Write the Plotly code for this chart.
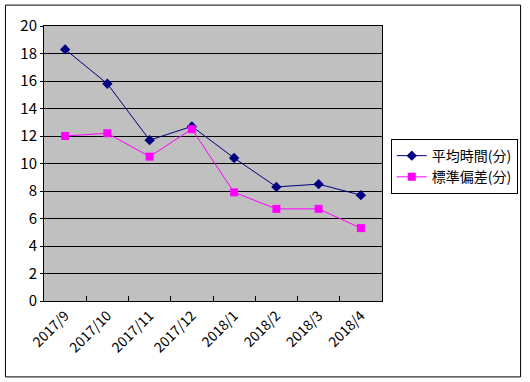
import plotly.graph_objects as go

categories = ["2017/9", "2017/10", "2017/11", "2017/12", "2018/1", "2018/2", "2018/3", "2018/4"]
avg_time = [18.3, 15.8, 11.7, 12.7, 10.4, 8.3, 8.5, 7.7]
std_dev = [12.0, 12.2, 10.5, 12.5, 7.9, 6.7, 6.7, 5.3]
y_ticks = [0, 2, 4, 6, 8, 10, 12, 14, 16, 18, 20]

font_family = "Noto Sans CJK JP, Noto Sans, sans-serif"

fig = go.Figure()
fig.add_trace(go.Scatter(
    x=categories, y=avg_time, name="平均時間(分)", mode="lines+markers",
    line=dict(color="#000080", width=1),
    marker=dict(symbol="diamond", size=8, color="#000080"),
))
fig.add_trace(go.Scatter(
    x=categories, y=std_dev, name="標準偏差(分)", mode="lines+markers",
    line=dict(color="#FF00FF", width=1),
    marker=dict(symbol="square", size=8, color="#FF00FF"),
))

fig.update_layout(
    width=530, height=382,
    margin=dict(l=44, r=145, t=26, b=81),
    paper_bgcolor="white",
    plot_bgcolor="#C0C0C0",
    font=dict(family=font_family, size=13, color="black"),
    showlegend=True,
    legend=dict(
        x=1.026, y=0.589, xanchor="left", yanchor="top",
        bgcolor="white", bordercolor="black", borderwidth=1,
        font=dict(size=14), tracegroupgap=0,
    ),
    xaxis=dict(
        type="category", tickangle=-45, tickson="boundaries",
        ticks="inside", ticklen=5, tickcolor="black",
        showline=True, linecolor="black", linewidth=1, mirror=True,
        showgrid=False, tickfont=dict(size=14),
        range=[-0.5, len(categories) - 0.5],
    ),
    yaxis=dict(
        range=[0, 20], tickvals=y_ticks, ticks="outside", ticklen=3,
        tickcolor="black",
        showline=True, linecolor="black", linewidth=1, mirror=True,
        showgrid=True, gridcolor="black", gridwidth=1,
        zeroline=False, tickfont=dict(size=15),
    ),
    shapes=[dict(
        type="rect", xref="paper", yref="paper",
        x0=-0.114, x1=1.41, y0=-0.276, y1=1.076,
        line=dict(color="black", width=1), fillcolor="rgba(0,0,0,0)",
    )],
)

fig.write_html("out.html", config={"displayModeBar": False},
               post_script="document.body.style.margin='0';")
